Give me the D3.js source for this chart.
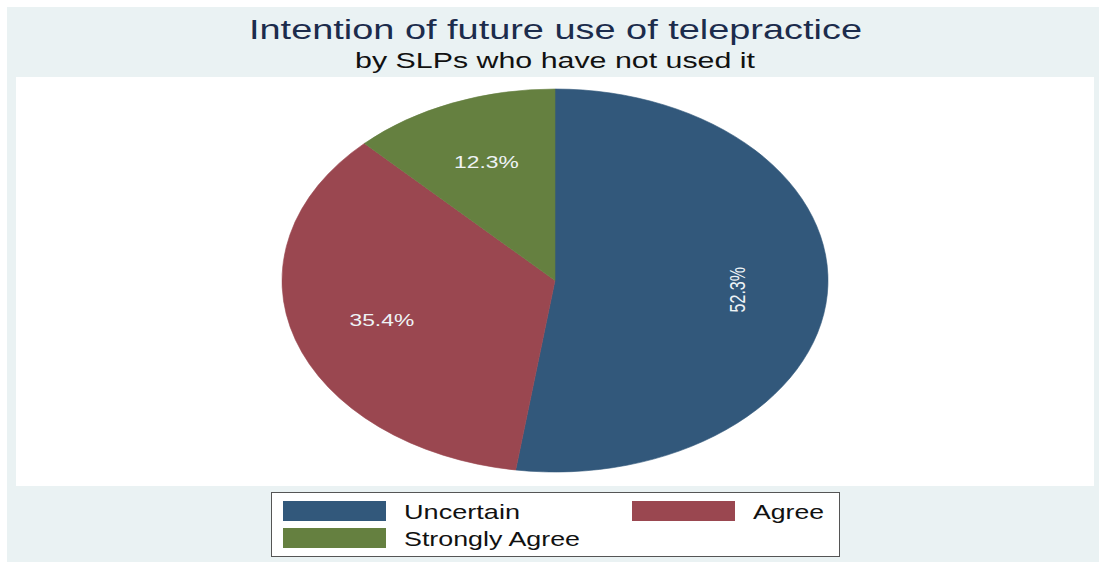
<!DOCTYPE html>
<html>
<head>
<meta charset="utf-8">
<script src="https://cdn.jsdelivr.net/npm/d3@7"></script>
<style>
  body { margin: 0; background: #fff; }
  text { font-family: "Liberation Sans", Arial, sans-serif; }
</style>
</head>
<body>
<svg id="chart" width="1099" height="562"></svg>
<script>
const categories = ['Uncertain', 'Agree', 'Strongly Agree'];
const shares = [52.3, 35.4, 12.3];
const colors = ['#32587b', '#9a4750', '#658040'];
const labelWidths = [116, 71, 176]; // legend text widths in the picture

const title = 'Intention of future use of telepractice';
const subtitle = 'by SLPs who have not used it';

const svg = d3.select('#chart');

// the original figure is stretched sideways, so the pie is an ellipse
const cx = 555, cy = 280.5;
const ry = 191.5, rx = 273;
const sx = rx / ry;

// outer background and plot region
svg.append('rect')
  .attr('x', 7).attr('y', 7)
  .attr('width', 1092).attr('height', 555)
  .attr('fill', '#eaf2f3');

svg.append('rect')
  .attr('x', 16).attr('y', 77)
  .attr('width', 1078).attr('height', 409)
  .attr('fill', '#ffffff');

// titles
svg.append('text')
  .attr('x', 555.5).attr('y', 39)
  .attr('text-anchor', 'middle')
  .attr('font-size', 27.5)
  .attr('fill', '#1c2c4c')
  .attr('textLength', 613)
  .attr('lengthAdjust', 'spacingAndGlyphs')
  .text(title);

svg.append('text')
  .attr('x', 555).attr('y', 68)
  .attr('text-anchor', 'middle')
  .attr('font-size', 22)
  .attr('fill', '#111')
  .attr('textLength', 400)
  .attr('lengthAdjust', 'spacingAndGlyphs')
  .text(subtitle);

// pie, clockwise from 12 o'clock like Stata
const pie = d3.pie().sort(null).value(d => d.value);
const data = categories.map((c, i) => ({ name: c, value: shares[i], color: colors[i] }));
const arcs = pie(data);

const arc = d3.arc().innerRadius(0).outerRadius(ry);
const labelArc = d3.arc().innerRadius(ry * 0.667).outerRadius(ry * 0.667);

const g = svg.append('g')
  .attr('transform', `translate(${cx},${cy}) scale(${sx},1)`);

g.selectAll('path').data(arcs)
  .enter().append('path')
    .attr('d', arc)
    .attr('fill', d => d.data.color)
    .attr('stroke', d => d.data.color)
    .attr('stroke-width', 0.5);

g.selectAll('.slice-label').data(arcs)
  .enter().append('text')
    .attr('class', 'slice-label')
    .attr('transform', (d, i) => {
      const [x, y] = labelArc.centroid(d);
      return i === 0 ? `translate(${x},${y}) rotate(-90)` : `translate(${x},${y})`;
    })
    .attr('text-anchor', 'middle')
    .attr('dy', '0.35em')
    .attr('font-size', 16)
    .attr('fill', '#eef3f6')
    .text(d => d.data.value.toFixed(1) + '%');

// legend
const legend = svg.append('g');

legend.append('rect')
  .attr('x', 271.5).attr('y', 492.5)
  .attr('width', 568).attr('height', 64)
  .attr('fill', '#fff')
  .attr('stroke', '#555')
  .attr('stroke-width', 1);

const colX = [283, 632];
const rowY = [501, 528];

const item = legend.selectAll('.item').data(data)
  .enter().append('g')
    .attr('class', 'item')
    .attr('transform', (d, i) => `translate(${colX[i % 2]},${rowY[Math.floor(i / 2)]})`);

item.append('rect')
  .attr('width', 103).attr('height', 20)
  .attr('fill', d => d.color);

item.append('text')
  .attr('x', 121).attr('y', 17.5)
  .attr('font-size', 21)
  .attr('fill', '#111')
  .attr('textLength', (d, i) => labelWidths[i])
  .attr('lengthAdjust', 'spacingAndGlyphs')
  .text(d => d.name);
</script>
</body>
</html>
